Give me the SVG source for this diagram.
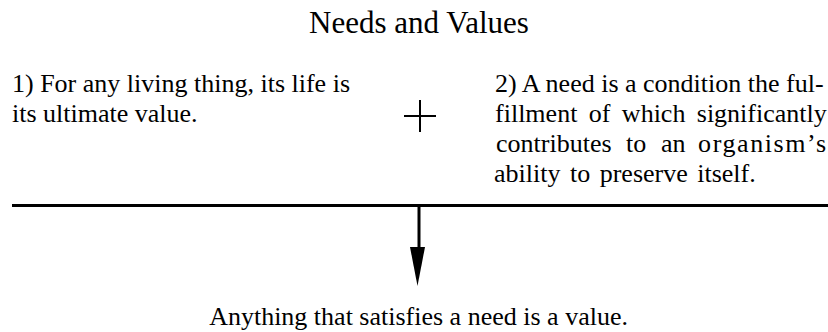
<svg xmlns="http://www.w3.org/2000/svg" width="828" height="332" viewBox="0 0 828 332">
  <style>
    .title { font-family: "Liberation Serif", "Times New Roman", serif; font-size: 31px; fill: #000; }
    .body { font-family: "Liberation Serif", "Times New Roman", serif; font-size: 26px; fill: #000; }
    .line { stroke: #000; fill: none; }
  </style>
  <rect width="828" height="332" fill="#fff"/>

  <g id="title">
    <text class="title" x="419" y="33" text-anchor="middle">Needs and Values</text>
  </g>

  <g id="premise1" transform="scale(1.0001,1)">
    <text class="body" x="12" y="92">1) For any living thing, its life is</text>
    <text class="body" x="12" y="122">its ultimate value.</text>
  </g>

  <g id="plus">
    <line class="line" x1="404" y1="116" x2="436" y2="116" stroke-width="2"/>
    <line class="line" x1="420" y1="100" x2="420" y2="132" stroke-width="2"/>
  </g>

  <g id="premise2" transform="scale(1.0001,1)">
    <text class="body" x="495" y="92">2) A need is a condition the ful-</text>
    <text class="body" y="122"><tspan x="495">fillment</tspan><tspan x="588.7">of</tspan><tspan x="621.8">which</tspan><tspan x="696.7">significantly</tspan></text>
    <text class="body" y="152"><tspan x="496">contributes</tspan><tspan x="626">to</tspan><tspan x="661">an</tspan><tspan x="698" textLength="128" lengthAdjust="spacing">organism’s</tspan></text>
    <text class="body" x="494" y="182" word-spacing="3">ability to preserve itself.</text>
  </g>

  <g id="rule">
    <line class="line" x1="12" y1="205.5" x2="828" y2="205.5" stroke-width="3"/>
  </g>

  <g id="connectors">
    <line class="line" x1="419" y1="205.5" x2="419" y2="247" stroke-width="3"/>
    <path d="M410,247 L425,247 L417.5,286 Z" fill="#000"/>
  </g>

  <g id="conclusion" transform="scale(1.0001,1)">
    <text class="body" x="418.5" y="325" text-anchor="middle">Anything that satisfies a need is a value.</text>
  </g>
</svg>
